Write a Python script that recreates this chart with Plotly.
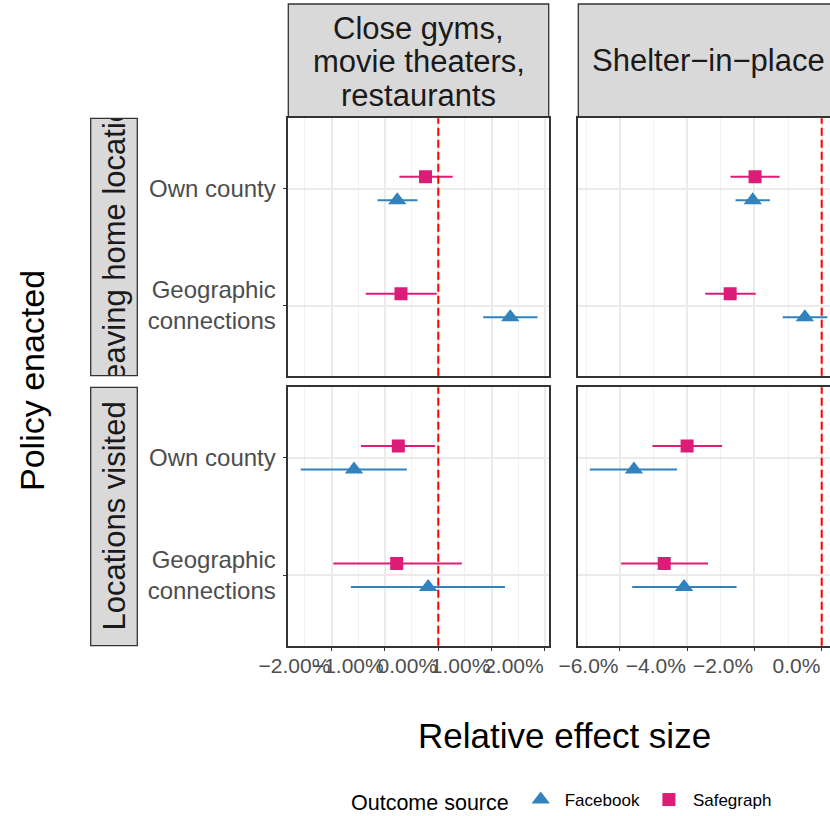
import plotly.graph_objects as go

# ---------------- data ----------------
policies = ["Close gyms, movie theaters, restaurants", "Shelter\u2212in\u2212place"]
outcomes = ["Leaving home locations", "Locations visited"]
regions = ["Own county", "Geographic connections"]          # Own county on top
region_labels = ["Own county", "Geographic<br>connections"]
sources = ["Facebook", "Safegraph"]

# estimates (%) ordered as regions: [Own county, Geographic connections]
gyms_leave_facebook = dict(est=[-0.77, 1.35], lo=[-1.14, 0.84], hi=[-0.39, 1.86])
gyms_leave_safegraph = dict(est=[-0.24, -0.70], lo=[-0.73, -1.36], hi=[0.27, -0.03])
gyms_visit_facebook = dict(est=[-1.58, -0.19], lo=[-2.58, -1.64], hi=[-0.59, 1.25])
gyms_visit_safegraph = dict(est=[-0.75, -0.78], lo=[-1.45, -1.97], hi=[-0.06, 0.44])
shelter_leave_facebook = dict(est=[-2.05, -0.50], lo=[-2.56, -1.16], hi=[-1.54, 0.17])
shelter_leave_safegraph = dict(est=[-1.98, -2.72], lo=[-2.71, -3.46], hi=[-1.25, -1.96])
shelter_visit_facebook = dict(est=[-5.58, -4.09], lo=[-6.89, -5.63], hi=[-4.30, -2.53])
shelter_visit_safegraph = dict(est=[-4.00, -4.68], lo=[-5.03, -5.96], hi=[-2.96, -3.38])

gyms_ticks = [-2, -1, 0, 1, 2]
gyms_ticklabels = ["\u22122.00%", "\u22121.00%", "0.00%", "1.00%", "2.00%"]
shelter_ticks = [-6, -4, -2, 0]
shelter_ticklabels = ["\u22126.0%", "\u22124.0%", "\u22122.0%", "0.0%"]
reference_value = 0

# ---------------- style ----------------
W, H = 830, 816
FONT = "Liberation Sans, Arial, sans-serif"
colors = {"Facebook": "#3182BD", "Safegraph": "#DD1C77"}
symbols = {"Facebook": "triangle-up", "Safegraph": "square"}
msize = {"Facebook": 16, "Safegraph": 13}
dodge = {"Facebook": -0.1, "Safegraph": 0.1}
region_pos = {r: p for r, p in zip(regions, [2, 1])}
STRIP_FONT = 31

def px_x(v):
    return v / W

def px_y(v):
    return 1 - v / H

colL = [px_x(288.3), px_x(548.7)]
colR = [px_x(578.3), 1.0]
row1 = [px_y(375.7), px_y(118.3)]
row2 = [px_y(645.7), px_y(387.3)]

panels = [
    ("x", "y", colL, row1, gyms_leave_facebook, gyms_leave_safegraph),
    ("x2", "y2", colR, row1, shelter_leave_facebook, shelter_leave_safegraph),
    ("x3", "y3", colL, row2, gyms_visit_facebook, gyms_visit_safegraph),
    ("x4", "y4", colR, row2, shelter_visit_facebook, shelter_visit_safegraph),
]

fig = go.Figure()
for i, (xa, ya, dx, dy, fb, sg) in enumerate(panels):
    for src, d in (("Facebook", fb), ("Safegraph", sg)):
        yy = [region_pos[r] + dodge[src] for r in regions]
        fig.add_trace(go.Scatter(
            x=d["est"], y=yy, xaxis=xa, yaxis=ya, mode="markers",
            name=src, legendgroup=src, showlegend=(i == 0),
            marker=dict(symbol=symbols[src], size=msize[src], color=colors[src],
                        line=dict(width=0)),
            error_x=dict(type="data", symmetric=False,
                         array=[h - e for h, e in zip(d["hi"], d["est"])],
                         arrayminus=[e - l for e, l in zip(d["est"], d["lo"])],
                         width=0, thickness=2, color=colors[src]),
            hoverinfo="x+y",
        ))

gridc = "#EBEBEB"
gyms_range = [(288.3 - 438.3) / 53.33, (548.7 - 438.3) / 53.33]
shelter_range = [(578.3 - 821.7) / 33.65, (830 - 821.7) / 33.65]
gyms_minor = [-2.5, -1.5, -0.5, 0.5, 1.5]
shelter_minor = [-7, -5, -3, -1]

def xaxis(domain, rng, ticks, labels, minor, show_labels, anchor):
    return dict(
        domain=domain, range=rng, anchor=anchor, tickmode="array",
        tickvals=ticks, ticktext=labels if show_labels else [""] * len(ticks),
        showticklabels=show_labels, ticks="outside" if show_labels else "",
        ticklen=4, tickwidth=1, tickcolor="#333333", tickangle=0,
        ticklabelposition="outside left", automargin=False,
        tickfont=dict(family=FONT, size=21, color="#4D4D4D"),
        showgrid=True, gridcolor=gridc, gridwidth=1.5,
        minor=dict(tickvals=minor, showgrid=True, gridcolor="#F2F2F2", gridwidth=0.8, ticks=""),
        showline=True, linecolor="#333333", linewidth=1.5, mirror=True,
        zeroline=False, fixedrange=True,
    )

def yaxis(domain, show_labels, anchor, mirror):
    return dict(
        domain=domain, range=[0.4, 2.6], anchor=anchor, tickmode="array",
        tickvals=[region_pos[r] for r in regions], ticktext=region_labels,
        showticklabels=show_labels, ticks="outside" if show_labels else "",
        ticklen=4, tickwidth=1, tickcolor="#333333", ticklabelstandoff=2,
        automargin=False,
        tickfont=dict(family=FONT, size=24, color="#4D4D4D"),
        showgrid=True, gridcolor=gridc, gridwidth=1.5,
        showline=True, linecolor="#333333", linewidth=1.5, mirror=mirror,
        zeroline=False, fixedrange=True,
    )

fig.update_layout(
    xaxis=xaxis(colL, gyms_range, gyms_ticks, gyms_ticklabels, gyms_minor, False, "y"),
    yaxis=yaxis(row1, True, "x", True),
    xaxis2=xaxis(colR, shelter_range, shelter_ticks, shelter_ticklabels, shelter_minor, False, "y2"),
    yaxis2=yaxis(row1, False, "x2", False),
    xaxis3=xaxis(colL, gyms_range, gyms_ticks, gyms_ticklabels, gyms_minor, True, "y3"),
    yaxis3=yaxis(row2, True, "x3", True),
    xaxis4=xaxis(colR, shelter_range, shelter_ticks, shelter_ticklabels, shelter_minor, True, "y4"),
    yaxis4=yaxis(row2, False, "x4", False),
)

# reference (zero) lines
for xa in ("x", "x2", "x3", "x4"):
    ya = "y" + xa[1:]
    fig.add_shape(type="line", xref=xa, yref=ya + " domain", x0=reference_value, x1=reference_value,
                  y0=0, y1=1, line=dict(color="#FF0000", width=2, dash="8px,4px"), layer="above")

# ---------------- strips ----------------
strip_fill = "#D9D9D9"
strip_line = "#333333"
top_strip_y = [px_y(117.3), px_y(4)]
fig.add_shape(type="rect", xref="paper", yref="paper", x0=colL[0], x1=colL[1],
              y0=top_strip_y[0], y1=top_strip_y[1], fillcolor=strip_fill,
              line=dict(color=strip_line, width=1.3), layer="below")
fig.add_shape(type="rect", xref="paper", yref="paper", x0=colR[0], x1=1.02,
              y0=top_strip_y[0], y1=top_strip_y[1], fillcolor=strip_fill,
              line=dict(color=strip_line, width=1.3), layer="below")
for line_text, yc in zip(["Close gyms,", "movie theaters,", "restaurants"], [29, 62, 95]):
    fig.add_annotation(text=line_text, xref="paper", yref="paper", x=(colL[0] + colL[1]) / 2,
                       y=px_y(yc), xanchor="center", yanchor="middle", showarrow=False,
                       font=dict(family=FONT, size=STRIP_FONT, color="#1A1A1A"))
fig.add_annotation(text=policies[1], xref="paper", yref="paper", x=px_x(708.5),
                   y=px_y(61), xanchor="center", yanchor="middle", showarrow=False,
                   font=dict(family=FONT, size=STRIP_FONT, color="#1A1A1A"))

stripX = [px_x(90.7), px_x(137.3)]
# row 1 strip: its label is clipped by its own subplot (bar with text)
fig.add_trace(go.Bar(
    x=[0], y=[1.093], base=[0], width=[1], xaxis="x5", yaxis="y5",
    marker=dict(color=strip_fill, line=dict(width=0)),
    text=[outcomes[0]], textposition="inside", insidetextanchor="middle", textangle=-90,
    constraintext="none", cliponaxis=True,
    textfont=dict(family=FONT, size=STRIP_FONT, color="#1A1A1A"),
    showlegend=False, hoverinfo="skip",
))
fig.update_layout(
    xaxis5=dict(domain=stripX, range=[-0.5, 0.5], visible=False, fixedrange=True, anchor="y5"),
    yaxis5=dict(domain=row1, range=[0, 1], visible=False, fixedrange=True, anchor="x5"),
)
fig.add_shape(type="rect", xref="paper", yref="paper", x0=stripX[0], x1=stripX[1],
              y0=row1[0], y1=row1[1], line=dict(color=strip_line, width=1.3), layer="above")
fig.add_shape(type="rect", xref="paper", yref="paper", x0=stripX[0], x1=stripX[1],
              y0=row2[0], y1=row2[1], fillcolor=strip_fill,
              line=dict(color=strip_line, width=1.3), layer="below")
fig.add_annotation(text=outcomes[1], xref="paper", yref="paper", x=(stripX[0] + stripX[1]) / 2,
                   y=(row2[0] + row2[1]) / 2, textangle=-90, xanchor="center", yanchor="middle",
                   showarrow=False, font=dict(family=FONT, size=STRIP_FONT, color="#1A1A1A"))

# axis titles
fig.add_annotation(text="Relative effect size", xref="paper", yref="paper", x=px_x(564),
                   y=px_y(735), xanchor="center", yanchor="middle", showarrow=False,
                   font=dict(family=FONT, size=35, color="#000000"))
fig.add_annotation(text="Policy enacted", xref="paper", yref="paper", x=px_x(32),
                   y=px_y(381), textangle=-90, xanchor="center", yanchor="middle",
                   showarrow=False, font=dict(family=FONT, size=34, color="#000000"))

fig.update_layout(
    width=W, height=H, autosize=False,
    margin=dict(l=0, r=0, t=0, b=0, autoexpand=False),
    paper_bgcolor="white", plot_bgcolor="white",
    font=dict(family=FONT),
    legend=dict(orientation="h", x=px_x(349), xanchor="left", y=px_y(801), yanchor="middle",
                title=dict(text="Outcome source", font=dict(family=FONT, size=21.5, color="#000000")),
                font=dict(family=FONT, size=17, color="#000000"), bgcolor="rgba(0,0,0,0)",
                itemwidth=38, tracegroupgap=0),
)

fig.write_html("out.html", config={"displayModeBar": False},
               post_script="document.body.style.margin='0';")
